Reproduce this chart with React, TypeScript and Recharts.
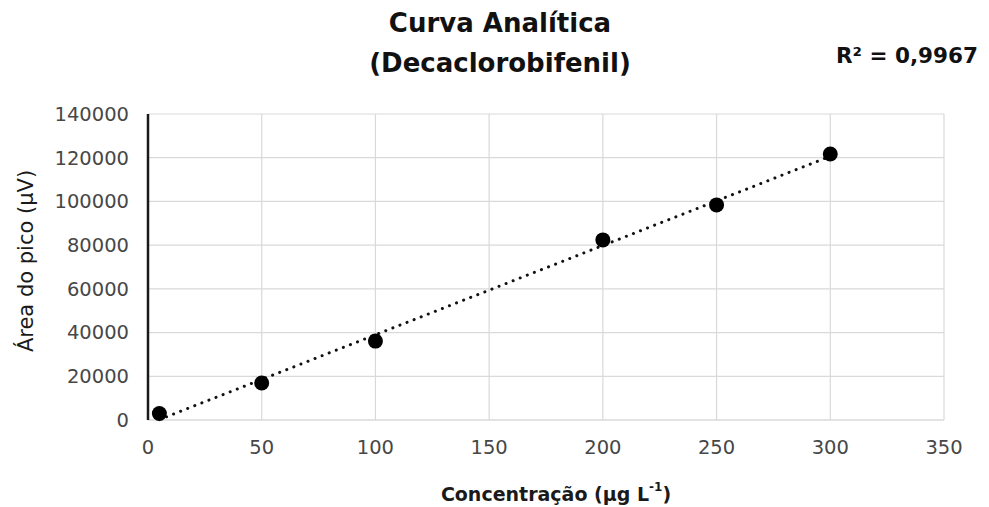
import React from 'react';
import { ScatterChart, Scatter, XAxis, YAxis, CartesianGrid, ReferenceLine, Label } from 'recharts';

// calibration points: concentration (µg/L) vs peak area (µV)
const concentrations = [5, 50, 100, 200, 250, 300];
const peakAreas = [3000, 16900, 36100, 82400, 98400, 121700];

const xTicks = [0, 50, 100, 150, 200, 250, 300, 350];
const yTicks = [0, 20000, 40000, 60000, 80000, 100000, 120000, 140000];

const titleLines = ['Curva Analítica', '(Decaclorobifenil)'];
const r2Text = 'R² = 0,9967';

const points = concentrations.map((x, i) => ({ x, y: peakAreas[i] }));

// least squares fit for the dotted trend line
function linearFit(xs: number[], ys: number[]) {
  const n = xs.length;
  const mx = xs.reduce((a, b) => a + b, 0) / n;
  const my = ys.reduce((a, b) => a + b, 0) / n;
  let sxy = 0;
  let sxx = 0;
  xs.forEach((x, i) => {
    sxy += (x - mx) * (ys[i] - my);
    sxx += (x - mx) * (x - mx);
  });
  const slope = sxy / sxx;
  return { slope, intercept: my - slope * mx };
}
const fit = linearFit(concentrations, peakAreas);
const x0 = concentrations[0];
const x1 = concentrations[concentrations.length - 1];
const trend = [
  { x: x0, y: fit.intercept + fit.slope * x0 },
  { x: x1, y: fit.intercept + fit.slope * x1 },
];

const FONT = '"DejaVu Sans", "Open Sans", sans-serif';
const TICK = { fontSize: 19.5, fill: '#474747', fontFamily: FONT };

const YTitle = (props: any) => {
  const vb = props.viewBox || { x: 0, y: 0, height: 0 };
  const cx = 26;
  const cy = vb.y + vb.height / 2 - 6;
  return (
    <text x={cx} y={cy} transform={`rotate(-90 ${cx} ${cy})`} textAnchor="middle" dominantBaseline="central"
      fontSize={21} fill="#1a1a1a" fontFamily={FONT}>
      Área do pico (µV)
    </text>
  );
};

const XTitle = (props: any) => {
  const vb = props.viewBox || { x: 0, y: 0, width: 0 };
  const cx = 556;
  const cy = vb.y + 74;
  return (
    <text x={cx} y={cy} textAnchor="middle" dominantBaseline="central" fontSize={19} fontWeight={700}
      fill="#1a1a1a" fontFamily={FONT}>
      Concentração  (µg L<tspan fontSize={12} dy={-7}>-1</tspan><tspan dy={7}>)</tspan>
    </text>
  );
};

const Dot = (props: any) => <circle cx={props.cx} cy={props.cy} r={7.5} fill="#000" />;

export default function App() {
  return (
    <div style={{ position: 'absolute', left: 0, top: 0, width: 989, height: 507, background: '#fff' }}>
      <div style={{ position: 'absolute', left: 250, width: 500, top: 3, textAlign: 'center', fontFamily: FONT,
        fontWeight: 700, fontSize: 26, lineHeight: '40px', color: '#111' }}>
        {titleLines.map((t) => <div key={t}>{t}</div>)}
      </div>
      <div style={{ position: 'absolute', left: 836, top: 43, fontFamily: FONT, fontWeight: 700, fontSize: 21.5,
        color: '#111', whiteSpace: 'nowrap' }}>
        {r2Text}
      </div>
      <ScatterChart width={989} height={507} margin={{ top: 114, right: 45, left: 0, bottom: 0 }}
        style={{ position: 'absolute', left: 0, top: 0 }}>
        <CartesianGrid stroke="#d9d9d9" strokeWidth={1.2} />
        <XAxis type="number" dataKey="x" domain={[0, 350]} ticks={xTicks} height={87} tickLine={false}
          tickSize={0} tickMargin={20} axisLine={{ stroke: '#d9d9d9', strokeWidth: 1.2 }} tick={TICK}>
          <Label content={XTitle} />
        </XAxis>
        <YAxis type="number" dataKey="y" domain={[0, 140000]} ticks={yTicks} width={148} tickLine={false}
          tickSize={0} tickMargin={19} axisLine={{ stroke: '#1a1a1a', strokeWidth: 2.5 }} tick={TICK}>
          <Label content={YTitle} />
        </YAxis>
        <ReferenceLine segment={trend} stroke="#111" strokeWidth={3} strokeDasharray="0.1 7.5"
          strokeLinecap="round" ifOverflow="visible" />
        <Scatter data={points} fill="#000" shape={Dot} isAnimationActive={false} />
      </ScatterChart>
    </div>
  );
}
